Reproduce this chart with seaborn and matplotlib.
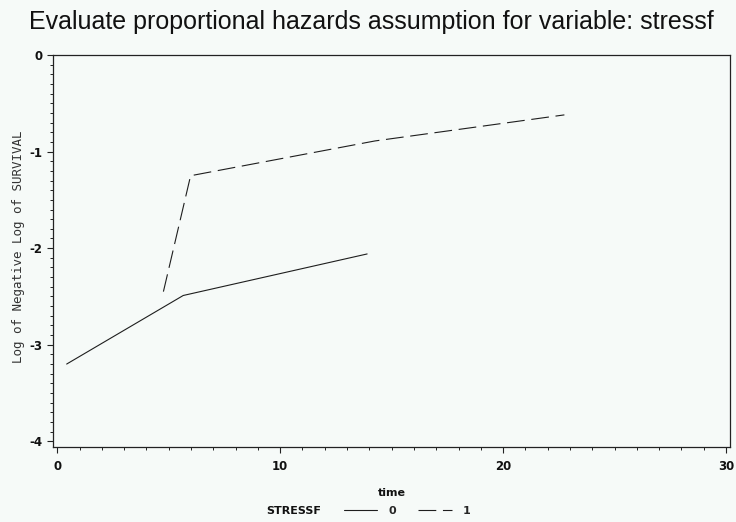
import matplotlib
matplotlib.use("Agg")
import matplotlib.pyplot as plt
import seaborn as sns
import pandas as pd
from matplotlib.ticker import MultipleLocator

# data
time_0 = [0.42, 5.65, 13.9]
lls_0 = [-3.20, -2.49, -2.06]
time_1 = [4.76, 5.98, 14.25, 22.75]
lls_1 = [-2.45, -1.25, -0.89, -0.62]
strata = ["0", "1"]
x_ticks = [0, 10, 20, 30]
y_ticks = [0, -1, -2, -3, -4]

df = pd.DataFrame({
    "time": time_0 + time_1,
    "lls": lls_0 + lls_1,
    "STRESSF": [strata[0]] * len(time_0) + [strata[1]] * len(time_1),
})

sns.set_style("white")
plt.rcParams["axes.unicode_minus"] = False
bg = "#f6faf8"
fig = plt.figure(figsize=(7.36, 5.22), dpi=100, facecolor=bg)
W, H = 736, 522
ax = fig.add_axes([53.3 / W, 1 - 447.3 / H, (730 - 53.3) / W, (447.3 - 55) / H])
ax.set_facecolor(bg)

sns.lineplot(data=df, x="time", y="lls", style="STRESSF", style_order=strata,
             dashes={"0": "", "1": (16, 6)}, color="#1e1e1e", lw=0.8,
             sort=False, estimator=None, ax=ax, legend=True)

ax.set_xlim(-0.18, 30.18)
ax.set_ylim(-4.062, 0.0)
ax.set_xticks(x_ticks)
ax.set_yticks(y_ticks)
ax.xaxis.set_minor_locator(MultipleLocator(1))
ax.yaxis.set_minor_locator(MultipleLocator(0.1))
ax.tick_params(axis="both", which="major", direction="out", length=4.3, width=0.8,
               color="#222222", labelsize=8.5, labelcolor="#111111")
ax.tick_params(axis="both", which="minor", direction="out", length=2, width=0.7,
               color="#222222")
ax.tick_params(axis="x", which="both", bottom=True, pad=5)
ax.tick_params(axis="y", which="both", left=True, pad=3.5)
for lab in ax.get_xticklabels() + ax.get_yticklabels():
    lab.set_fontweight("bold")
for s in ax.spines.values():
    s.set_color("#222222")
    s.set_linewidth(0.9)

ax.set_xlabel("")
ax.set_ylabel("")
fig.text(392 / W, 1 - 493 / H, "time", ha="center", va="center",
         fontsize=8, fontweight="bold", color="#111111")
fig.text(19 / W, 1 - 247 / H, "Log of Negative Log of SURVIVAL", rotation=90,
         ha="center", va="center", fontsize=9, family="DejaVu Sans Mono",
         color="#333333")
fig.text(371 / W, 1 - 22 / H,
         "Evaluate proportional hazards assumption for variable: stressf",
         ha="center", va="center", fontsize=18, family="Liberation Sans",
         color="#111111")

handles, labels = ax.get_legend_handles_labels()
ax.get_legend().remove()
fig.text(321 / W, 1 - 511 / H, "STRESSF", ha="right", va="center",
         fontsize=8, fontweight="bold", color="#111111")
leg = fig.legend(handles, labels, loc="center left",
                 bbox_to_anchor=(344 / W, 1 - 511 / H), ncol=2, frameon=False,
                 borderpad=0, borderaxespad=0, handlelength=3.0,
                 handletextpad=1.0, columnspacing=2.0,
                 prop={"size": 8, "weight": "bold"})

fig.savefig("out.png", dpi=100, facecolor=bg)
